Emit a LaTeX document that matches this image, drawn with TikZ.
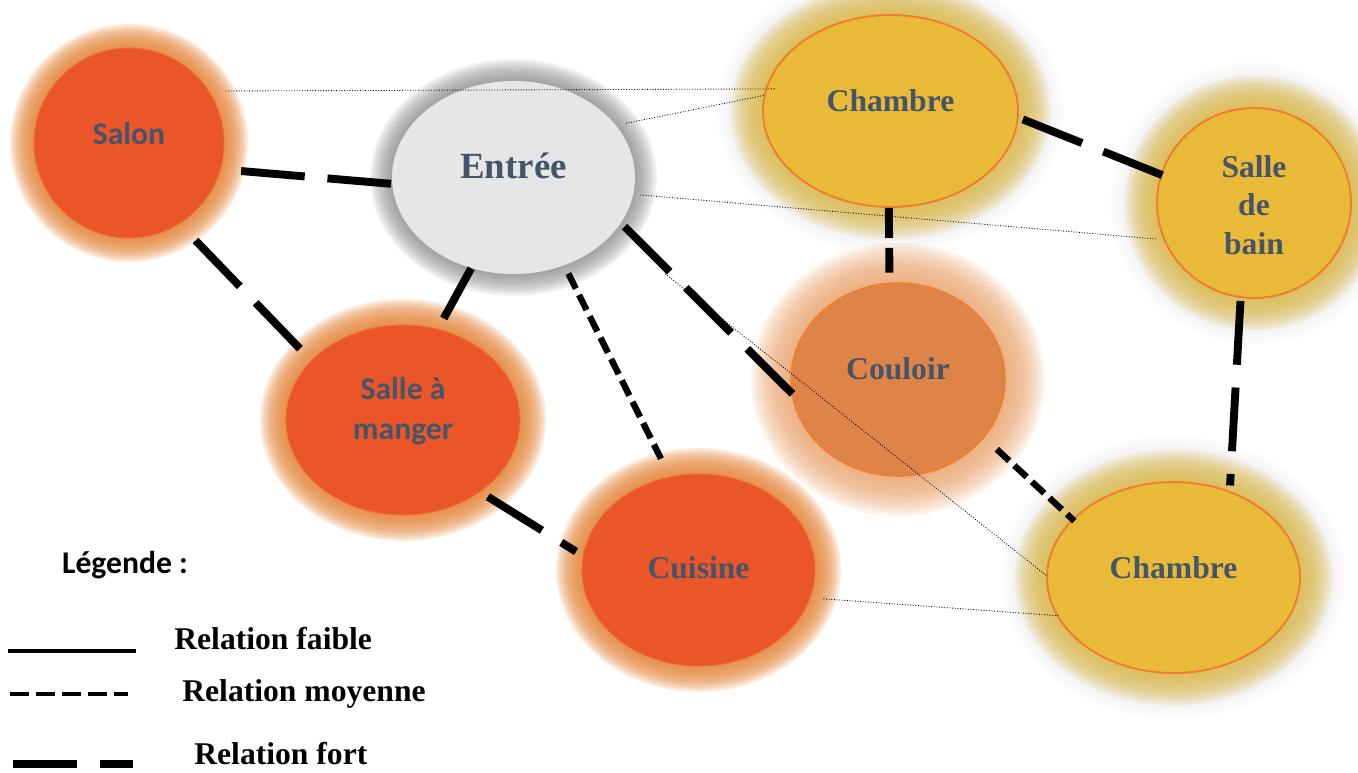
\documentclass[tikz,border=0pt]{standalone}
\usepackage{fontspec}
\setmainfont{Liberation Serif}
\newfontfamily\calibri{Carlito}
\usetikzlibrary{shapes.geometric}
\pgfdeclarelayer{background}
\pgfsetlayers{background,main}

\definecolor{textblue}{HTML}{44546A}
\definecolor{redfill}{HTML}{EB5628}
\definecolor{redglow}{HTML}{E3853A}
\definecolor{goldfill}{HTML}{E9BA38}
\definecolor{goldglow}{HTML}{E0BC4C}
\definecolor{orangeline}{HTML}{EF7D30}
\definecolor{couloirfill}{HTML}{DF8448}
\definecolor{couloirglow}{HTML}{E8A068}
\definecolor{entreefill}{HTML}{E6E6E6}
\definecolor{entreeglow}{HTML}{7A7A7A}

\tikzset{
  room/.style={ellipse, inner sep=0pt},
  redroom/.style={room, fill=redfill, draw=orangeline!60!redfill, line width=0.5pt},
  goldroom/.style={room, fill=goldfill, draw=orangeline, line width=1.1pt},
  roomtxt/.style={text=textblue, font=\fontsize{18}{21.8}\selectfont\bfseries, align=center},
  sanstxt/.style={text=textblue, font=\calibri\fontsize{18}{23.2}\selectfont\bfseries, align=center},
  legtxt/.style={font=\fontsize{18}{21}\selectfont\bfseries, anchor=west, inner sep=0pt},
  fort/.style={line width=4.5pt, dash pattern=on 36.3pt off 13pt},
  fortcourt/.style={line width=4.5pt, dash pattern=on 17pt off 5.7pt},
  moyenne/.style={line width=3.6pt, dash pattern=on 9.6pt off 4pt},
  faible/.style={line width=0.5pt, densely dotted}
}

\begin{document}
\begin{tikzpicture}[x=0.02cm, y=-0.02cm]
    \useasboundingbox (0,0) rectangle (1358,772);

    % rooms
    \node[redroom, minimum width=3.8cm, minimum height=3.8cm,
      label={[sanstxt, yshift=0.18cm]center:Salon}] (salon) at (129,143) {};
    \node[room, fill=entreefill, minimum width=4.86cm, minimum height=3.86cm,
      label={[roomtxt, font=\fontsize{21}{25}\selectfont\bfseries, yshift=0.24cm]center:Entrée}] (entree) at (513.5,177.5) {};
    \node[goldroom, minimum width=5.1cm, minimum height=3.84cm,
      label={[roomtxt, yshift=0.2cm]center:Chambre}] (chambreA) at (890.5,111) {};
    \node[goldroom, minimum width=3.88cm, minimum height=3.8cm,
      label={[roomtxt, yshift=-0.04cm]center:Salle\\de\\bain}] (bain) at (1254,203) {};
    \node[room, fill=couloirfill, draw=orangeline, line width=0.9pt, minimum width=4.28cm, minimum height=3.86cm,
      label={[roomtxt, yshift=0.22cm]center:Couloir}] (couloir) at (898,379.5) {};
    \node[redroom, minimum width=4.68cm, minimum height=3.8cm,
      label={[sanstxt, yshift=0.18cm]center:Salle à\\manger}] (sam) at (403,420) {};
    \node[redroom, minimum width=4.66cm, minimum height=3.84cm,
      label={[roomtxt, yshift=0.04cm]center:Cuisine}] (cuisine) at (698.5,570) {};
    \node[goldroom, minimum width=5.06cm, minimum height=3.82cm,
      label={[roomtxt, yshift=0.2cm]center:Chambre}] (chambreB) at (1173.5,577.5) {};

    % soft halo round each room
    \begin{pgfonlayer}{background}
      \foreach \n/\col/\a/\b/\w/\op in {
          chambreA/entreeglow/127.5/96/46/0.025, chambreB/entreeglow/126.5/95.5/46/0.025,
          bain/entreeglow/97/95/46/0.025,
          salon/redglow/95/95/24/0.16, sam/redglow/117/95/26/0.16,
          cuisine/redglow/116.5/96/26/0.16, entree/entreeglow/121.5/96.5/22/0.09,
          chambreA/goldglow/127.5/96/32/0.14, chambreB/goldglow/126.5/95.5/32/0.14,
          bain/goldglow/97/95/32/0.14, couloir/couloirglow/107/96.5/40/0.13}
        \foreach \k in {1,...,12}
          \fill[fill=\col, opacity=\op] (\n.center) ellipse ({\a+\w*\k/12} and {\b+\w*\k/12});
    \end{pgfonlayer}

    % strong links
    \draw[fort, shorten <=0.41cm] (salon.-16) -- (entree.183);
    \draw[fort, shorten <=0.46cm, shorten >=0.32cm] (salon.-58) -- (sam.147);
    \draw[fort, shorten >=0.24cm] (entree.-115) -- (sam.69);
    \draw[fort, shorten <=0.1cm, shorten >=-0.1cm] (entree.-23.5) -- (couloir.187.6);
    \draw[fort, shorten <=0.18cm, shorten >=0.16cm] (sam.-43) -- (cuisine.173.5);
    \draw[fortcourt, shorten >=0.2cm] (chambreA.-91) -- (couloir.95);
    \draw[fort, shorten <=0.09cm, shorten >=-0.04cm] (chambreA.-3.9) -- (bain.163.5);
    \draw[fort, shorten <=0.06cm, shorten >=0.11cm] (bain.-98) -- (chambreB.57);

    % medium links
    \draw[moyenne, shorten <=0.18cm, shorten >=0.4cm] (entree.-60) -- (cuisine.107.6);
    \draw[moyenne, shorten <=0.34cm, shorten >=-0.06cm] (couloir.-34) -- (chambreB.150.6);

    % weak links
    \draw[faible, shorten <=0.33cm, shorten >=-0.2cm] (salon.33) -- (chambreA.170);
    \draw[faible, shorten <=0.2cm] (entree.27) -- (chambreA.173.6);
    \draw[faible, shorten <=0.14cm, shorten >=0.16cm] (entree.-8) -- (bain.202);
    \draw[faible, shorten <=1.32cm] (entree.-29.5) -- (chambreB.179);
    \draw[faible, shorten <=0.26cm, shorten >=-0.04cm] (cuisine.-14.5) -- (chambreB.198.7);

    % legend
    \node[font=\calibri\fontsize{18}{21}\selectfont\bfseries] (legende) at (125,565) {Légende :};
    \node[legtxt] (lfaible) at (174,639) {Relation faible};
    \node[legtxt] (lmoyenne) at (182,694) {Relation moyenne};
    \node[legtxt] (lfort) at (194,754) {Relation fort};
    \draw[line width=2.8pt] (8,651) -- (136,651);
    \draw[moyenne, line width=2.8pt, dash pattern=on 10.8pt off 4pt] (10,694) -- (128,694);
    \draw[fort] (13,764) -- (133,764);
\end{tikzpicture}
\end{document}
